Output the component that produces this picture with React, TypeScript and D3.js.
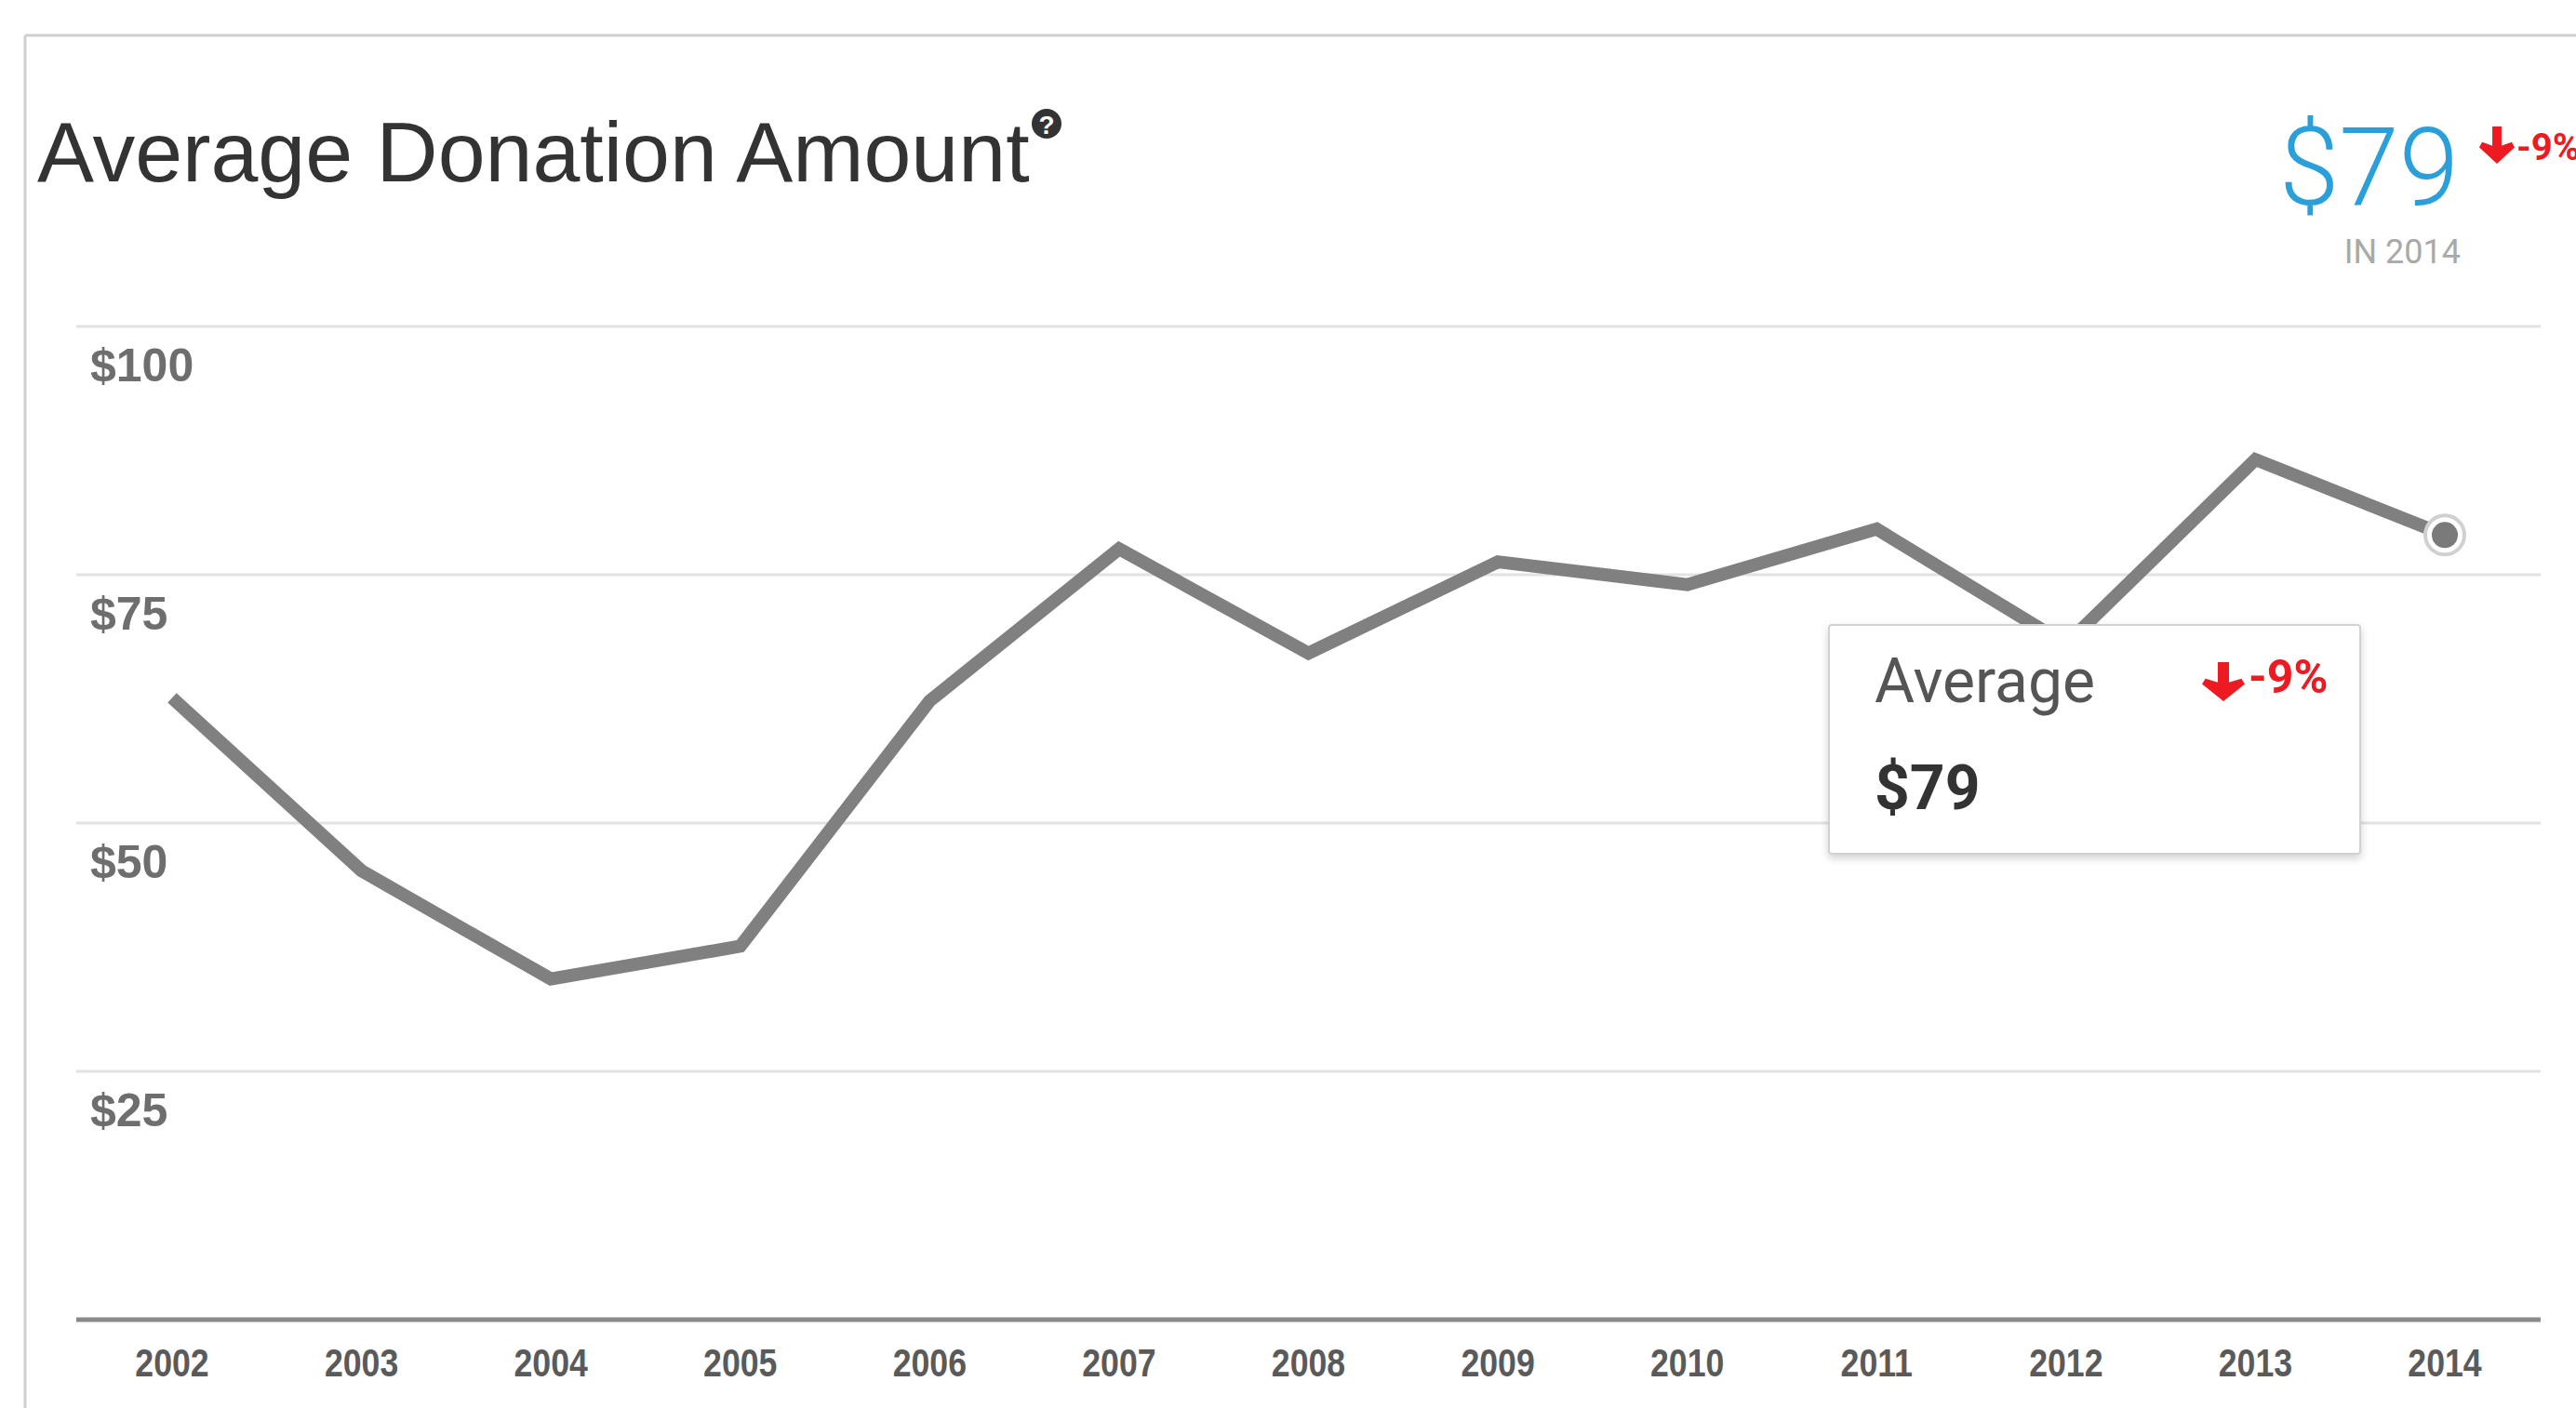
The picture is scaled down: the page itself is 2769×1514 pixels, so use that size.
import React from "react";
import * as d3 from "d3";

const years = ["2002","2003","2004","2005","2006","2007","2008","2009","2010","2011","2012","2013","2014"];
const averageDonation = [62.6, 45.2, 34.3, 37.6, 62.3, 77.6, 67.1, 76.3, 74.0, 79.6, 68.0, 86.6, 79.0];
const yTicks = [25, 50, 75, 100];
const chartTitle = "Average Donation Amount";
const headlineValue = "$79";
const headlineYear = "IN 2014";
const changeLabel = "-9%";
const tooltipLabel = "Average";
const tooltipValue = "$79";

const W = 2769;
const H = 1514;

function arrowPath(x: number, y: number, w: number, h: number) {
  const cx = x + w / 2;
  const sw = w * 0.26;
  const headTop = y + h * 0.42;
  return `M${cx - sw / 2},${y} L${cx + sw / 2},${y} L${cx + sw / 2},${headTop + h * 0.1} L${x + w - w * 0.08},${headTop} L${x + w},${headTop + h * 0.14} L${cx},${y + h} L${x},${headTop + h * 0.14} L${x + w * 0.08},${headTop} L${cx - sw / 2},${headTop + h * 0.1} Z`;
}

export default function App() {
  const x = d3.scalePoint<string>().domain(years).range([185, 2628]);
  const y = d3.scaleLinear().domain([0, 100]).range([1419, 351]);
  const line = d3
    .line<number>()
    .x((_, i) => x(years[i]) as number)
    .y((d) => y(d));
  const lastIdx = years.length - 1;
  const lx = x(years[lastIdx]) as number;
  const ly = y(averageDonation[lastIdx]);
  const red = "#ee1a22";
  const sans = "'Liberation Sans', Arial, Helvetica, sans-serif";

  return (
    <svg
      width={W}
      height={H}
      style={{ position: "absolute", left: 0, top: 0, background: "#fff" }}
      xmlns="http://www.w3.org/2000/svg"
    >
      <defs>
        <filter id="shadow" x="-10%" y="-10%" width="120%" height="130%">
          <feDropShadow dx="0" dy="4" stdDeviation="4" floodColor="#000" floodOpacity="0.18" />
        </filter>
      </defs>
      <rect x={0} y={0} width={W} height={H} fill="#fff" />
      <line x1={27} y1={38} x2={W} y2={38} stroke="#cfcfcf" strokeWidth={3} />
      <line x1={27} y1={38} x2={27} y2={H} stroke="#cfcfcf" strokeWidth={3} />

      <text x={40} y={195} fontFamily={sans} fontSize={91.5} fill="#333">
        {chartTitle}
      </text>
      <circle cx={1125} cy={133} r={16} fill="#333" />
      <text x={1125} y={144} textAnchor="middle" fontFamily={sans} fontWeight="bold" fontSize={28} fill="#fff">
        ?
      </text>

      <text x={2643} y={220} textAnchor="end" fontFamily="Roboto, sans-serif" fontWeight={300} fontSize={116} fill="#2a9fda">
        {headlineValue}
      </text>
      <text x={2645} y={283} textAnchor="end" fontFamily="Roboto, sans-serif" fontSize={36} fill="#a9a9a9">
        {headlineYear}
      </text>
      <path d={arrowPath(2665, 136, 38, 40)} fill={red} />
      <text x={2705} y={172} fontFamily="Roboto, sans-serif" fontWeight="bold" fontSize={40} fill={red}>
        {changeLabel}
      </text>

      {yTicks.map((t) => (
        <g key={t}>
          <line x1={82} x2={2731} y1={y(t)} y2={y(t)} stroke="#e2e2e2" strokeWidth={3} />
          <text x={97} y={y(t) + 59} fontFamily={sans} fontWeight="bold" fontSize={50} fill="#6e6e6e">
            {"$" + t}
          </text>
        </g>
      ))}
      <line x1={82} x2={2731} y1={y(0)} y2={y(0)} stroke="#8a8a8a" strokeWidth={5} />
      {years.map((yr) => (
        <text
          key={yr}
          transform={`translate(${x(yr)},1480) scale(0.85,1)`}
          textAnchor="middle"
          fontFamily={sans}
          fontWeight="bold"
          fontSize={42}
          fill="#5a5a5a"
        >
          {yr}
        </text>
      ))}

      <path d={line(averageDonation) || ""} fill="none" stroke="#808080" strokeWidth={14} strokeLinejoin="miter" strokeLinecap="butt" />
      <circle cx={lx} cy={ly} r={21} fill="#fff" stroke="#d0d0d0" strokeWidth={4} />
      <circle cx={lx} cy={ly} r={14} fill="#7a7a7a" />

      <rect x={1966} y={672} width={571} height={246} rx={3} fill="#fff" stroke="#d2d2d2" strokeWidth={2} filter="url(#shadow)" />
      <text x={2015} y={755} fontFamily="Roboto, sans-serif" fontSize={66} fill="#555">
        {tooltipLabel}
      </text>
      <text x={2015} y={870} fontFamily="Roboto, sans-serif" fontWeight="bold" fontSize={66} fill="#333">
        {tooltipValue}
      </text>
      <path d={arrowPath(2367, 712, 46, 42)} fill={red} />
      <text x={2417} y={745} fontFamily="Roboto, sans-serif" fontWeight="bold" fontSize={50} fill={red}>
        {changeLabel}
      </text>
    </svg>
  );
}
